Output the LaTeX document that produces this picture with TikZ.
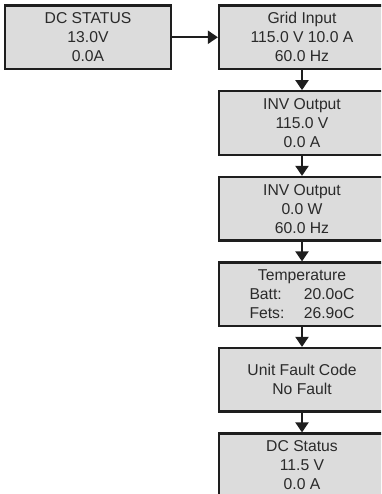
\documentclass[tikz,border=0pt]{standalone}
\usepackage{fontspec}
\setmainfont{Liberation Sans}
\usetikzlibrary{arrows.meta}
\definecolor{boxfill}{HTML}{DCDCDC}
\definecolor{boxline}{HTML}{1E1E1E}
\definecolor{txt}{HTML}{2A2A2A}
\tikzset{
  panel/.style={draw=boxline, line width=2.2pt, fill=boxfill, minimum width=166pt,
    minimum height=63.5pt, inner sep=0pt, align=center, text=txt,
    font=\fontsize{15.7}{19}\selectfont},
  flow/.style={draw=boxline, line width=2pt, -{Triangle[length=10pt,width=13pt]}}
}
\begin{document}
\begin{tikzpicture}[x=1pt,y=-1pt]
\useasboundingbox (0,0) rectangle (381,494);
\clip (0,0) rectangle (381,494);
\node[panel] (dc) at (88,37.25) {DC STATUS\\13.0V\\0.0A};
\node[panel] (grid) at (302,37.25) {Grid Input\\115.0 V 10.0 A\\60.0 Hz};
\node[panel] (inv1) at (302,123) {INV Output\\115.0 V\\0.0 A};
\node[panel] (inv2) at (302,208.75) {INV Output\\0.0 W\\60.0 Hz};
\node[panel] (temp) at (302,294.25) {Temperature\\\makebox[50pt][l]{Batt:}\makebox[55pt][r]{20.0oC}\\\makebox[50pt][l]{Fets:}\makebox[55pt][r]{26.9oC}};
\node[panel] (fault) at (302,379.75) {Unit Fault Code\\No Fault};
\node[panel] (dcs) at (302,465.25) {DC Status\\11.5 V\\0.0 A};
\draw[flow] (dc) -- (grid);
\draw[flow] (grid) -- (inv1);
\draw[flow] (inv1) -- (inv2);
\draw[flow] (inv2) -- (temp);
\draw[flow] (temp) -- (fault);
\draw[flow] (fault) -- (dcs);
\end{tikzpicture}
\end{document}
